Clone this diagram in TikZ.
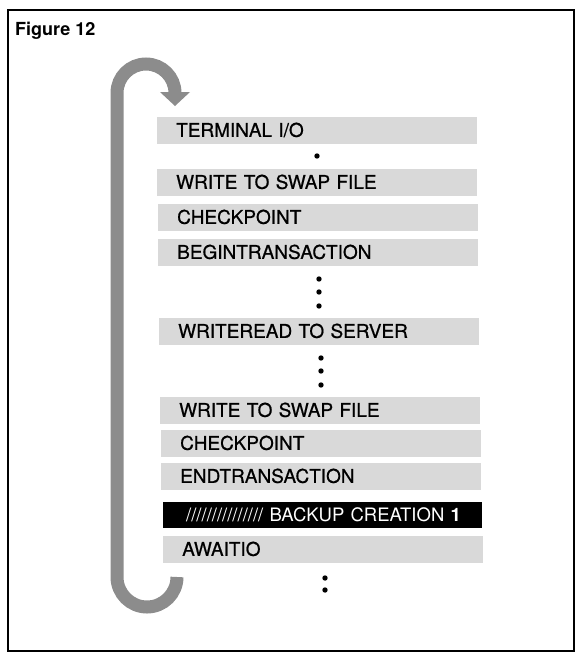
\documentclass[tikz,border=0pt]{standalone}
\usepackage{fontspec}
\setmainfont{TeX Gyre Heros}
\newfontfamily\rowfont[WordSpace=0.5,FakeBold=0.7]{TeX Gyre Heros}
\begin{document}
\begin{tikzpicture}[x=1pt,y=-1pt,
  rowbar/.style={anchor=west, fill=black!15, minimum height=27pt,
    inner xsep=19pt, inner ysep=0pt, text width=282pt, align=left,
    text height=13.7pt, text depth=0pt,
    font=\rowfont\fontsize{19}{19}\selectfont},
  markbar/.style={anchor=west, fill=black, text=white, minimum height=26pt,
    inner xsep=17pt, inner ysep=0pt, text width=285pt, align=left,
    text height=13.3pt, text depth=0pt,
    font=\fontsize{18.5}{18.5}\selectfont},
  dot/.style={circle, fill=black, inner sep=0pt, minimum size=5.4pt},
  loopband/.style={draw=black!45, line width=13pt, line cap=butt},
  framebox/.style={draw=black, line width=1.2pt}]
\useasboundingbox (0,0) rectangle (577,654);

% outer frame and title
\draw[framebox] (8,10) rectangle (574,651);
\node[anchor=base west, inner sep=0pt, font=\bfseries\fontsize{18}{18}\selectfont]
  (title) at (15,35) {Figure 12};

% program steps
\node[rowbar] (term)   at (157,130) {TERMINAL I/O};
\node[dot]    (d1)     at (317,156) {};
\node[rowbar] (swapA)  at (157,182) {WRITE TO SWAP FILE};
\node[rowbar] (chkA)   at (158,217) {CHECKPOINT};
\node[rowbar] (begin)  at (158,252) {BEGINTRANSACTION};
\node[dot]    (d2)     at (319,279) {};
\node[dot]    (d3)     at (319,292) {};
\node[dot]    (d4)     at (319,306) {};
\node[rowbar] (wread)  at (159,331) {WRITEREAD TO SERVER};
\node[dot]    (d5)     at (321,358) {};
\node[dot]    (d6)     at (321,371) {};
\node[dot]    (d7)     at (321,385) {};
\node[rowbar] (swapB)  at (160,410) {WRITE TO SWAP FILE};
\node[rowbar] (chkB)   at (161,443) {CHECKPOINT};
\node[rowbar] (endt)   at (161,476) {ENDTRANSACTION};
\node[markbar] (backup) at (163,515)
  {\hspace*{6pt}///////////////\ BACKUP CREATION \textbf{1}};
\node[rowbar] (await)  at (163,549) {AWAITIO};
\node[dot]    (d8)     at (325,578) {};
\node[dot]    (d9)     at (325,590) {};

% loop arrow back to the top
\coordinate (lpStart) at (177,577);
\coordinate (lpUp)    at (117,93);
\coordinate (tipL)    at (160,92);
\coordinate (tipR)    at (190,92);
\coordinate (tip)     at (175,106);
\draw[loopband] (lpStart) arc[start angle=0, end angle=-180, radius=30pt]
  -- (lpUp) arc[start angle=180, end angle=0, radius=29pt];
\fill[black!45] (tipL) -- (tipR) -- (tip) -- cycle;
\end{tikzpicture}
\end{document}
